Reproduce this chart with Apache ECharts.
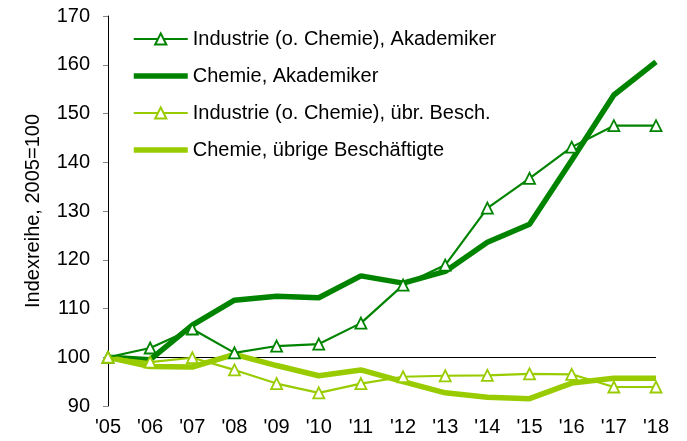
<!DOCTYPE html>
<html>
<head>
    <meta charset="UTF-8">
    <title>Indexreihe Akademiker / übrige Beschäftigte</title>
    <style>
        html, body { margin: 0; padding: 0; background: #fff; }
        #chart { width: 687px; height: 441px; }
    </style>
</head>
<body>
    <div id="chart"></div>

    <script src="https://cdn.jsdelivr.net/npm/echarts@6/dist/echarts.min.js"></script>
    <script>
        var years = ["'05", "'06", "'07", "'08", "'09", "'10", "'11", "'12", "'13", "'14", "'15", "'16", "'17", "'18"];
        var industrieAkad = [100, 101.9, 105.8, 100.9, 102.3, 102.7, 107.0, 114.8, 118.9, 130.6, 136.7, 143.1, 147.5, 147.5];
        var chemieAkad = [100, 99.5, 106.6, 111.7, 112.5, 112.2, 116.7, 115.2, 117.6, 123.6, 127.3, 140.4, 153.8, 160.6];
        var industrieUebr = [100, 99.0, 99.9, 97.4, 94.6, 92.7, 94.6, 96.0, 96.2, 96.3, 96.6, 96.5, 93.9, 93.9];
        var chemieUebr = [100, 98.1, 98.0, 100.6, 98.3, 96.2, 97.4, 95.0, 92.7, 91.8, 91.5, 94.7, 95.7, 95.7];
        var yTicks = { min: 90, max: 170, step: 10 };

        var dark = '#008400';
        var light = '#99cc00';
        var fs = 20;

        // thick lines have no markers, so hide the marker in their legend icon
        var noMarker = { color: 'rgba(0,0,0,0)', borderWidth: 0 };

        var option = {
            animation: false,
            textStyle: { fontFamily: 'Liberation Sans, Arial, sans-serif' },
            grid: { left: 108, right: 31, top: 16, bottom: 35 },
            legend: {
                orient: 'vertical',
                left: 131,
                top: 29,
                padding: 0,
                itemWidth: 54,
                itemHeight: 14,
                itemGap: 17,
                textStyle: { fontSize: fs, lineHeight: 20, color: '#000' },
                data: [
                    { name: 'Industrie (o. Chemie), Akademiker', lineStyle: { width: 2.2 } },
                    { name: 'Chemie, Akademiker', itemStyle: noMarker, lineStyle: { width: 5.5, color: dark } },
                    { name: 'Industrie (o. Chemie), übr. Besch.', lineStyle: { width: 2.2 } },
                    { name: 'Chemie, übrige Beschäftigte', itemStyle: noMarker, lineStyle: { width: 5.5, color: light } }
                ]
            },
            xAxis: {
                type: 'category',
                boundaryGap: false,
                data: years,
                axisLine: { show: false },
                axisTick: { show: false },
                axisLabel: { fontSize: fs, color: '#000', margin: 11 }
            },
            yAxis: {
                type: 'value',
                min: yTicks.min,
                max: yTicks.max,
                interval: yTicks.step,
                name: 'Indexreihe, 2005=100',
                nameLocation: 'middle',
                nameGap: 65,
                nameTextStyle: { fontSize: fs, color: '#000' },
                axisLine: { show: true, lineStyle: { color: '#000', width: 1 } },
                axisTick: { show: true, length: 5, lineStyle: { color: '#888' } },
                axisLabel: { fontSize: fs, color: '#000', margin: 18 },
                splitLine: { show: false }
            },
            series: [
                {
                    name: 'Industrie (o. Chemie), Akademiker',
                    type: 'line',
                    data: industrieAkad,
                    symbol: 'triangle',
                    symbolSize: 11,
                    itemStyle: { color: '#fff', borderColor: dark, borderWidth: 1.8 },
                    lineStyle: { color: dark, width: 2.2 },
                    z: 3
                },
                {
                    name: 'Chemie, Akademiker',
                    type: 'line',
                    data: chemieAkad,
                    symbol: 'none',
                    itemStyle: { color: dark },
                    lineStyle: { color: dark, width: 5.5 },
                    z: 2
                },
                {
                    name: 'Industrie (o. Chemie), übr. Besch.',
                    type: 'line',
                    data: industrieUebr,
                    symbol: 'triangle',
                    symbolSize: 11,
                    itemStyle: { color: '#fff', borderColor: light, borderWidth: 1.8 },
                    lineStyle: { color: light, width: 2.2 },
                    z: 3
                },
                {
                    name: 'Chemie, übrige Beschäftigte',
                    type: 'line',
                    data: chemieUebr,
                    symbol: 'none',
                    itemStyle: { color: light },
                    lineStyle: { color: light, width: 5.5 },
                    z: 2,
                    markLine: {
                        silent: true,
                        symbol: 'none',
                        label: { show: false },
                        lineStyle: { color: '#000', width: 1, type: 'solid' },
                        data: [{ yAxis: 100 }],
                        z: 1
                    }
                }
            ]
        };

        var myChart = echarts.init(document.getElementById('chart'));
        myChart.setOption(option);
    </script>
</body>
</html>
